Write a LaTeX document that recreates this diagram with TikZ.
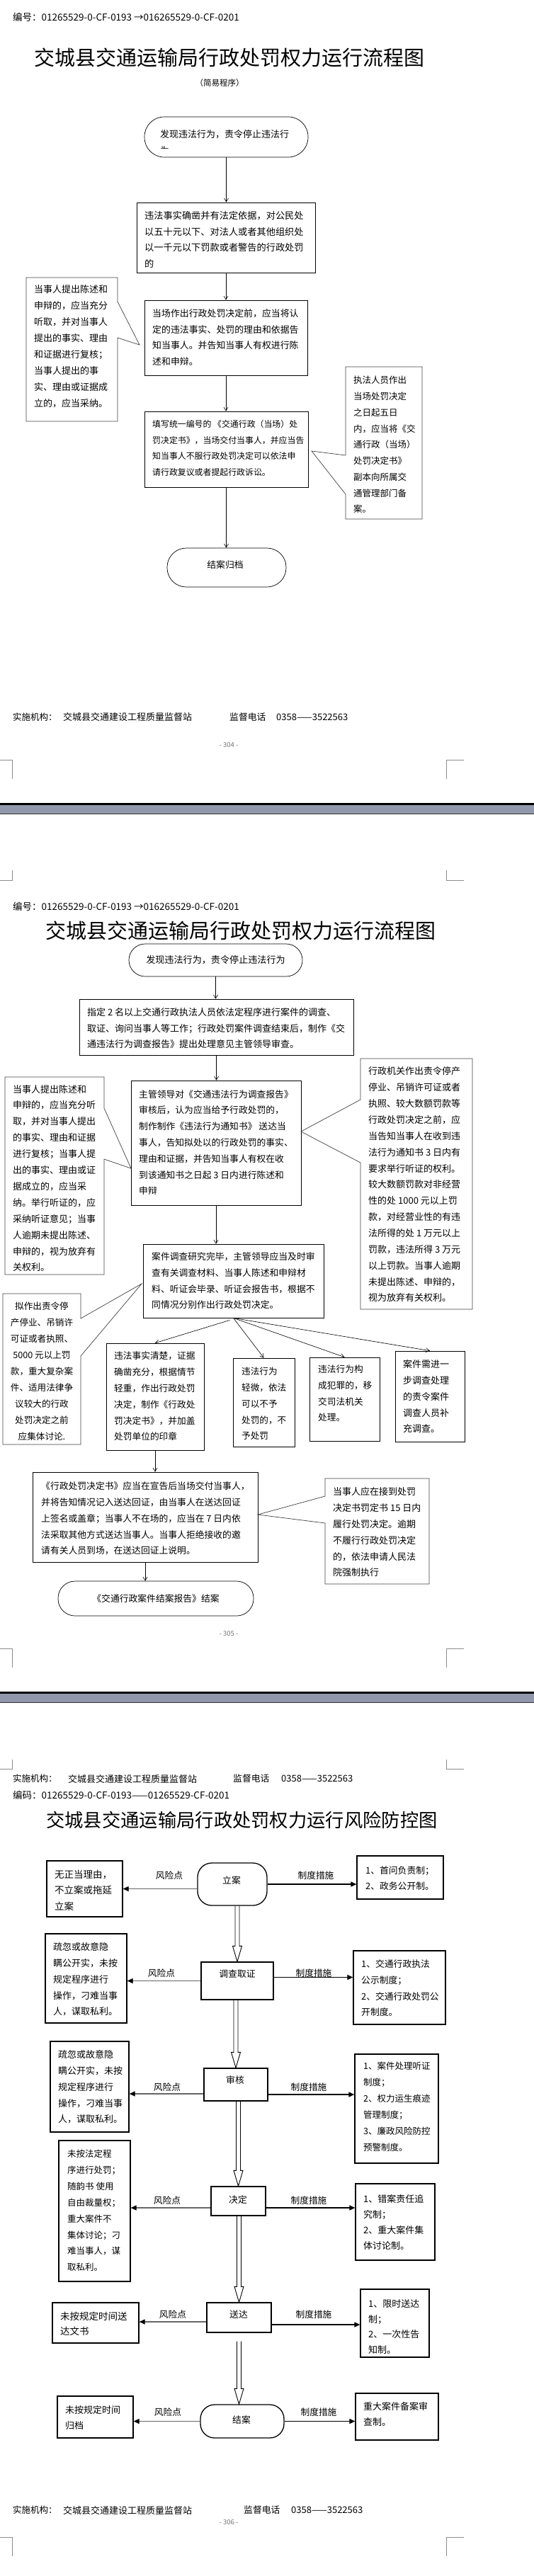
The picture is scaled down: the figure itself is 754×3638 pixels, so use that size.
\documentclass[tikz,border=0pt]{standalone}
\usepackage{fontspec}
\setmainfont{Noto Sans CJK SC}
\usetikzlibrary{arrows.meta,calc}
\definecolor{sepg}{RGB}{145,152,171}
\newcommand\fz[2]{\fontsize{#1}{#2}\selectfont}
\newcommand\dblarr[2]{%
  \draw[line width=0.9pt, line join=miter] ($(#1)+(-3,0)$) -- ($(#2)+(-3,-22)$) -- ($(#2)+(-6.5,-22)$) -- (#2) -- ($(#2)+(6.5,-22)$) -- ($(#2)+(3,-22)$) -- ($(#1)+(3,0)$);}
\begin{document}
\begin{tikzpicture}[x=1pt,y=-1pt,
  txt/.style={inner sep=0pt, align=left, anchor=west},
  body/.style={txt, font=\fz{13}{22.7}},
  box/.style={draw, line width=0.7pt, inner sep=0pt},
  call/.style={draw=black!75, line width=0.7pt},
  arr/.style={line width=0.6pt, -{Straight Barb[length=5pt,width=6pt]}},
  pbox/.style={draw, line width=1.3pt, inner sep=0pt},
  risk/.style={draw=black!60, line width=1.1pt, -{Triangle[length=8pt,width=7pt,color=black]}},
  meas/.style={line width=1.5pt, -{Triangle[length=8pt,width=7pt]}},
  lbl/.style={inner sep=0pt, font=\fz{12.7}{14}},
  ctr/.style={inner sep=0pt, font=\fz{12.8}{14}},
  cropmark/.style={draw=black!45, line width=0.6pt},
  pnum/.style={inner sep=0pt, font=\fz{9.5}{11}, text=black!55}
]
\useasboundingbox (0,0) rectangle (754,3638);
\fill[white] (0,0) rectangle (754,3638);

% ================= PAGE 1 =================
\node[txt, font=\fz{13.5}{15}] (h1) at (18,24) {编号：01265529-0-CF-0193 →016265529-0-CF-0201};
\node[inner sep=0pt, font=\fz{29}{31}] (t1) at (323.5,81) {交城县交通运输局行政处罚权力运行流程图};
\node[inner sep=0pt, font=\fz{11.5}{13}] (st1) at (310,117) {（简易程序）};

\node[box, rounded corners=28pt, minimum width=231pt, minimum height=57pt] (s1) at (319.5,193.5) {};
\node[txt, font=\fz{13}{15}] (s1t) at (226,190) {发现违法行为，责令停止违法行};
\begin{scope}
  \clip (220,203) rectangle (250,209.5);
  \node[txt, font=\fz{13}{15}] (s1u) at (226,213) {为};
\end{scope}

\node[box, minimum width=252pt, minimum height=99pt] (b2) at (319,335.5) {};
\node[body, font=\fz{13.2}{22.5}] (b2t) at (204,338.5) {违法事实确凿并有法定依据，对公民处\\以五十元以下、对法人或者其他组织处\\以一千元以下罚款或者警告的行政处罚\\的};

\node[box, minimum width=230pt, minimum height=106pt] (b3) at (319,477) {};
\node[body, font=\fz{12.9}{22.4}] (b3t) at (215,476.5) {当场作出行政处罚决定前，应当将认\\定的违法事实、处罚的理由和依据告\\知当事人。并告知当事人有权进行陈\\述和申辩。};

\node[box, minimum width=231pt, minimum height=107pt] (b4) at (319.5,634.5) {};
\node[body, font=\fz{11.9}{22.7}] (b4t) at (215,633) {填写统一编号的 《交通行政（当场）处\\罚决定书》，当场交付当事人，并应当告\\知当事人不服行政处罚决定可以依法申\\请行政复议或者提起行政诉讼。};

\node[box, rounded corners=27pt, minimum width=168pt, minimum height=55pt] (e1) at (320,801.5) {};
\node[ctr] (e1t) at (318,798) {结案归档};

\draw[call] (37,392) -- (166,392) -- (166,426) -- (197,487) -- (166,477) -- (166,595) -- (37,595) -- cycle;
\node[body, font=\fz{13}{23}] (l1t) at (48,489.5) {当事人提出陈述和\\申辩的，应当充分\\听取，并对当事人\\提出的事实、理由\\和证据进行复核；\\当事人提出的事\\实、理由或证据成\\立的，应当采纳。};

\draw[call] (488,518) -- (596,518) -- (596,733) -- (488,733) -- (488,698) -- (440,637) -- (488,643) -- cycle;
\node[body, font=\fz{12.5}{22.75}] (r1t) at (499,628) {执法人员作出\\当场处罚决定\\之日起五日\\内，应当将《交\\通行政（当场）\\处罚决定书》\\副本向所属交\\通管理部门备\\案。};

\draw[arr] (s1.south) -- (s1.south |- b2.north);
\draw[arr] (b2.south) -- (b2.south |- b3.north);
\draw[arr] (b3.south) -- (b3.south |- b4.north);
\draw[arr] (b4.south) -- (b4.south |- e1.north);

\node[txt, font=\fz{12.5}{14}] (f1a) at (18,1013) {实施机构：};
\node[txt, font=\fz{13}{14}] (f1b) at (89,1013) {交城县交通建设工程质量监督站};
\node[txt, font=\fz{12.8}{14}] (f1c) at (324,1013) {监督电话};
\node[txt, font=\fz{13}{14}] (f1d) at (390,1013) {0358——3522563};
\node[pnum] (pn1) at (323,1052) {- 304 -};
\draw[cropmark] (0,1073) -- (17,1073) -- (17,1100);
\draw[cropmark] (655,1073) -- (630,1073) -- (630,1100);

\fill[black] (0,1134) rectangle (754,1137);
\fill[sepg] (0,1137) rectangle (754,1149);
\draw[black!80, line width=0.6pt] (0,1149.3) -- (754,1149.3);

% ================= PAGE 2 =================
\draw[cropmark] (17,1229) -- (17,1243) -- (0,1243);
\draw[cropmark] (630,1229) -- (630,1243) -- (655,1243);
\node[txt, font=\fz{13.5}{15}] (h2) at (18,1280) {编号：01265529-0-CF-0193 →016265529-0-CF-0201};
\node[inner sep=0pt, font=\fz{29}{31}] (t2) at (339.5,1314) {交城县交通运输局行政处罚权力运行流程图};

\node[box, rounded corners=23pt, minimum width=245pt, minimum height=46pt, font=\fz{13.1}{15}] (s2) at (304.5,1356) {发现违法行为，责令停止违法行为};

\node[box, minimum width=387pt, minimum height=79pt] (b5) at (305.5,1450.5) {};
\node[body, font=\fz{13}{22.5}] (b5t) at (123,1452.5) {指定 2 名以上交通行政执法人员依法定程序进行案件的调查、\\取证、询问当事人等工作；行政处罚案件调查结束后，制作《交\\通违法行为调查报告》提出处理意见主管领导审查。};

\node[box, minimum width=240pt, minimum height=176pt] (b6) at (305,1614) {};
\node[body, font=\fz{12.8}{22.8}] (b6t) at (196,1613.5) {主管领导对《交通违法行为调查报告》\\审核后，认为应当给予行政处罚的，\\制作制作《违法行为通知书》 送达当\\事人，告知拟处以的行政处罚的事实、\\理由和证据，并告知当事人有权在收\\到该通知书之日起 3 日内进行陈述和\\申辩};

\draw[call] (7,1521) -- (147,1521) -- (147,1565) -- (185,1650) -- (147,1637) -- (147,1800) -- (7,1800) -- cycle;
\node[body, font=\fz{13}{22.9}] (l2t) at (18,1664) {当事人提出陈述和\\申辩的，应当充分听\\取，并对当事人提出\\的事实、理由和证据\\进行复核；当事人提\\出的事实、理由或证\\据成立的，应当采\\纳。举行听证的，应\\采纳听证意见；当事\\人逾期未提出陈述、\\申辩的，视为放弃有\\关权利。};

\draw[call] (509,1495) -- (667,1495) -- (667,1849) -- (509,1849) -- (509,1642) -- (425,1598) -- (509,1553) -- cycle;
\node[body, font=\fz{13}{22.86}] (r2t) at (520,1673) {行政机关作出责令停产\\停业、吊销许可证或者\\执照、较大数额罚款等\\行政处罚决定之前，应\\当告知当事人在收到违\\法行为通知书 3 日内有\\要求举行听证的权利。\\较大数额罚款对非经营\\性的处 1000 元以上罚\\款，对经营业性的有违\\法所得的处 1 万元以上\\罚款，违法所得 3 万元\\以上罚款。当事人逾期\\未提出陈述、申辩的，\\视为放弃有关权利。};

\node[box, minimum width=255pt, minimum height=104pt] (b7) at (329.5,1809) {};
\node[body, font=\fz{12.8}{22.7}] (b7t) at (214,1809) {案件调查研究完毕，主管领导应当及时审\\查有关调查材料、当事人陈述和申辩材\\料、听证会毕录、听证会报告书，根据不\\同情况分别作出行政处罚决定。};

\draw[call] (4,1827) -- (114,1827) -- (114,1862) -- (200,1813) -- (114,1915) -- (114,2040) -- (4,2040) -- cycle;
\node[inner sep=0pt, align=center, font=\fz{12.6}{23}] (l3t) at (59,1937) {拟作出责令停\\产停业、吊销许\\可证或者执照、\\5000 元以上罚\\款，重大复杂案\\件、适用法律争\\议较大的行政\\处罚决定之前\\应集体讨论.};

\node[box, minimum width=138pt, minimum height=151pt] (ba) at (219,1972.5) {};
\node[body, font=\fz{12.7}{22.8}] (bat) at (161,1972) {违法事实清楚，证据\\确凿充分，根据情节\\轻重，作出行政处罚\\决定，制作《行政处\\罚决定书》，并加盖\\处罚单位的印章};

\node[box, minimum width=87pt, minimum height=125pt] (bb) at (372.5,1980.5) {};
\node[body, font=\fz{12.6}{22.75}] (bbt) at (341,1982.5) {违法行为\\轻微，依法\\可以不予\\处罚的，不\\予处罚};

\node[box, minimum width=99pt, minimum height=118pt] (bc) at (486.5,1976) {};
\node[body, font=\fz{12.7}{22.7}] (bct) at (449,1968) {违法行为构\\成犯罪的，移\\交司法机关\\处理。};

\node[box, minimum width=98pt, minimum height=128pt] (bd) at (607,1972) {};
\node[body, font=\fz{13}{22.75}] (bdt) at (569,1972.5) {案件需进一\\步调查处理\\的责令案件\\调查人员补\\充调查。};

\node[box, minimum width=318pt, minimum height=127pt] (be) at (205,2142.5) {};
\node[body, font=\fz{12.8}{22.75}] (bet) at (58,2144.5) {《行政处罚决定书》应当在宣告后当场交付当事人，\\并将告知情况记入送达回证，由当事人在送达回证\\上签名或盖章；当事人不在场的，应当在 7 日内依\\法采取其他方式送达当事人。当事人拒绝接收的邀\\请有关人员到场，在送达回证上说明。};

\draw[call] (459,2088) -- (606,2088) -- (606,2237) -- (459,2237) -- (459,2151) -- (364,2139) -- (459,2113) -- cycle;
\node[body, font=\fz{13}{22.8}] (r3t) at (470,2164) {当事人应在接到处罚\\决定书罚定书 15 日内\\履行处罚决定。逾期\\不履行行政处罚决定\\的，依法申请人民法\\院强制执行};

\node[box, rounded corners=24pt, minimum width=276pt, minimum height=49pt, font=\fz{12.8}{15}] (e2) at (220,2257.5) {《交通行政案件结案报告》结案};

\draw[arr] (s2.south) -- (s2.south |- b5.north);
\draw[arr] (b5.south) -- (b5.south |- b6.north);
\draw[arr] (b6.south) -- (b6.south |- b7.north);
\draw[arr] ($(b7.south)+(-5,3)$) -- (ba.north);
\draw[arr] (b7.south) -- (bb.north);
\draw[arr] (b7.south) -- (bc.north);
\draw[arr] (b7.south) -- (bd.north);
\draw[arr] (ba.south) -- (ba.south |- be.north);
\draw[arr] (be.south) -- (be.south |- e2.north);

\node[pnum] (pn2) at (323,2307) {- 305 -};
\draw[cropmark] (0,2328) -- (17,2328) -- (17,2355);
\draw[cropmark] (655,2328) -- (630,2328) -- (630,2355);

\fill[black] (0,2389) rectangle (754,2392);
\fill[sepg] (0,2392) rectangle (754,2404);
\draw[black!80, line width=0.6pt] (0,2404.3) -- (754,2404.3);

% ================= PAGE 3 =================
\draw[cropmark] (17,2485) -- (17,2498) -- (0,2498);
\draw[cropmark] (630,2485) -- (630,2498) -- (655,2498);
\node[txt, font=\fz{12.5}{14}] (f2a) at (18,2512) {实施机构：};
\node[txt, font=\fz{13}{14}] (f2b) at (96,2512) {交城县交通建设工程质量监督站};
\node[txt, font=\fz{12.8}{14}] (f2c) at (329,2512) {监督电话};
\node[txt, font=\fz{13}{14}] (f2d) at (397,2512) {0358——3522563};
\node[txt, font=\fz{13.5}{15}] (h3) at (18,2535) {编码：01265529-0-CF-0193——01265529-CF-0201};
\node[inner sep=0pt, font=\fz{26.3}{28}] (t3) at (341.5,2570) {交城县交通运输局行政处罚权力运行风险防控图};

% row 1
\node[pbox, rounded corners=20pt, minimum width=98pt, minimum height=60pt] (la) at (328,2661) {};
\node[ctr] (lat) at (327,2656) {立案};
\node[pbox, minimum width=107pt, minimum height=79pt] (L1) at (119.5,2667.5) {};
\node[body, font=\fz{13.5}{22.5}] (L1t) at (77,2669.5) {无正当理由，\\不立案或拖延\\立案};
\node[pbox, minimum width=122pt, minimum height=61pt] (M1) at (565,2651.5) {};
\node[body, font=\fz{12.8}{22}] (M1t) at (516,2653) {1、首问负责制；\\2、政务公开制。};
\draw[risk] (la.west |- L1.east) -- (L1.east);
\draw[meas] (la.east) -- (la.east -| M1.west);
\node[lbl] (r1l) at (239,2649) {风险点};
\node[lbl] (m1l) at (446,2649) {制度措施};

% row 2
\node[pbox, minimum width=102pt, minimum height=53pt] (lb) at (335,2797.5) {};
\node[ctr] (lbt) at (335,2788) {调查取证};
\node[pbox, minimum width=115pt, minimum height=126pt] (L2) at (121.5,2794) {};
\node[body, font=\fz{13}{22.75}] (L2t) at (75,2795.5) {疏忽或故意隐\\瞒公开实，未按\\规定程序进行\\操作，刁难当事\\人，谋取私利。};
\node[pbox, minimum width=130pt, minimum height=104pt] (M2) at (564,2807) {};
\node[body, font=\fz{12.8}{22.7}] (M2t) at (510,2808) {1、交通行政执法\\公示制度；\\2、交通行政处罚公\\开制度。};
\draw[risk] (lb.west) -- (lb.west -| L2.east);
\draw[meas] ($(lb.east)+(0,-5)$) -- ($(lb.east -| M2.west)+(0,-5)$);
\node[lbl] (r2l) at (228,2787) {风险点};
\node[lbl] (m2l) at (443,2787) {制度措施};

% row 3
\node[pbox, minimum width=90pt, minimum height=46pt] (lc) at (333,2944) {};
\node[ctr] (lct) at (332,2938) {审核};
\node[pbox, minimum width=111pt, minimum height=128pt] (L3) at (126.5,2947) {};
\node[body, font=\fz{13}{22.75}] (L3t) at (82,2947.5) {疏忽或故意隐\\瞒公开实，未按\\规定程序进行\\操作，刁难当事\\人，谋取私利。};
\node[pbox, minimum width=118pt, minimum height=154pt] (M3) at (560,2978) {};
\node[body, font=\fz{12.5}{23}] (M3t) at (513,2975.5) {1、案件处理听证\\制度；\\2、权力运生痕迹\\管理制度；\\3、廉政风险防控\\预警制度。};
\coordinate (r3a) at ($(lc.west)+(0,13)$);
\coordinate (m3a) at ($(lc.east)+(0,14)$);
\draw[risk] (r3a) -- (r3a -| L3.east);
\draw[meas] (m3a) -- (m3a -| M3.west);
\node[lbl] (r3l) at (236,2948) {风险点};
\node[lbl] (m3l) at (436,2948) {制度措施};

% row 4
\node[pbox, minimum width=77pt, minimum height=41pt] (ld) at (336.5,3108.5) {};
\node[ctr] (ldt) at (336,3107) {决定};
\node[pbox, minimum width=101pt, minimum height=199pt] (L4) at (133.5,3122.5) {};
\node[body, font=\fz{12.5}{22.86}] (L4t) at (95,3122) {未按法定程\\序进行处罚；\\随韵书 使用\\自由裁量权；\\重大案件不\\集体讨论；刁\\难当事人，谋\\取私利。};
\node[pbox, minimum width=112pt, minimum height=108pt] (M4) at (558,3138) {};
\node[body, font=\fz{13}{22}] (M4t) at (513,3138) {1、错案责任追\\究制；\\2、重大案件集\\体讨论制。};
\coordinate (r4a) at ($(ld.west)+(0,9.5)$);
\coordinate (m4a) at ($(ld.east)+(0,9.5)$);
\draw[risk] (r4a) -- (r4a -| L4.east);
\draw[meas] (m4a) -- (m4a -| M4.west);
\node[lbl] (r4l) at (236,3108) {风险点};
\node[lbl] (m4l) at (436,3108) {制度措施};

% row 5
\node[pbox, minimum width=91pt, minimum height=42pt] (le) at (337.5,3273) {};
\node[ctr] (let) at (337,3269) {送达};
\node[pbox, minimum width=122pt, minimum height=57pt] (L5) at (135,3280.5) {};
\node[body, font=\fz{13.5}{21}] (L5t) at (85,3281.5) {未按规定时间送\\达文书};
\node[pbox, minimum width=97pt, minimum height=96pt] (M5) at (557.5,3281) {};
\node[body, font=\fz{13}{21.5}] (M5t) at (520,3286) {1、限时送达\\制；\\2、一次性告\\知制。};
\coordinate (r5a) at ($(le.west)+(0,6)$);
\coordinate (m5a) at ($(le.east)+(0,10)$);
\draw[risk] (r5a) -- (r5a -| L5.east);
\draw[meas] (m5a) -- (m5a -| M5.west);
\node[lbl] (r5l) at (244,3269) {风险点};
\node[lbl] (m5l) at (443,3269) {制度措施};

% row 6
\node[pbox, rounded corners=20pt, minimum width=118pt, minimum height=47pt] (lf) at (342,3419.5) {};
\node[ctr] (lft) at (341,3418) {结案};
\node[pbox, minimum width=107pt, minimum height=59pt] (L6) at (134.5,3413.5) {};
\node[body, font=\fz{13}{22}] (L6t) at (92,3414) {未按规定时间\\归档};
\node[pbox, minimum width=117pt, minimum height=66pt] (M6) at (560.5,3413) {};
\node[body, font=\fz{13}{22}] (M6t) at (513,3409) {重大案件备案审\\查制。};
\draw[risk] (lf.west) -- (lf.west -| L6.east);
\draw[meas] (lf.east) -- (lf.east -| M6.west);
\node[lbl] (r6l) at (237,3407) {风险点};
\node[lbl] (m6l) at (450,3407) {制度措施};

% double arrows
\coordinate (d1s) at (la.south -| lb.north); \coordinate (d1e) at (lb.north);
\dblarr{d1s}{d1e}
\coordinate (d2s) at (lb.south -| lc.north); \coordinate (d2e) at (lc.north);
\dblarr{d2s}{d2e}
\coordinate (d3s) at (lc.south -| ld.north); \coordinate (d3e) at (ld.north);
\dblarr{d3s}{d3e}
\coordinate (d4s) at (ld.south -| le.north); \coordinate (d4e) at (le.north);
\dblarr{d4s}{d4e}
\coordinate (d5s) at ($(le.south)+(0,12)$); \coordinate (d5e) at (le.south |- lf.north);
\dblarr{d5s}{d5e}

\node[txt, font=\fz{12.5}{14}] (f3a) at (18,3545) {实施机构：};
\node[txt, font=\fz{13}{14}] (f3b) at (89,3545) {交城县交通建设工程质量监督站};
\node[txt, font=\fz{12.8}{14}] (f3c) at (344,3545) {监督电话};
\node[txt, font=\fz{13}{14}] (f3d) at (411,3545) {0358——3522563};
\node[pnum] (pn3) at (323,3562) {- 306 -};
\draw[cropmark] (0,3583) -- (17,3583) -- (17,3610);
\draw[cropmark] (655,3583) -- (630,3583) -- (630,3610);
\end{tikzpicture}
\end{document}
